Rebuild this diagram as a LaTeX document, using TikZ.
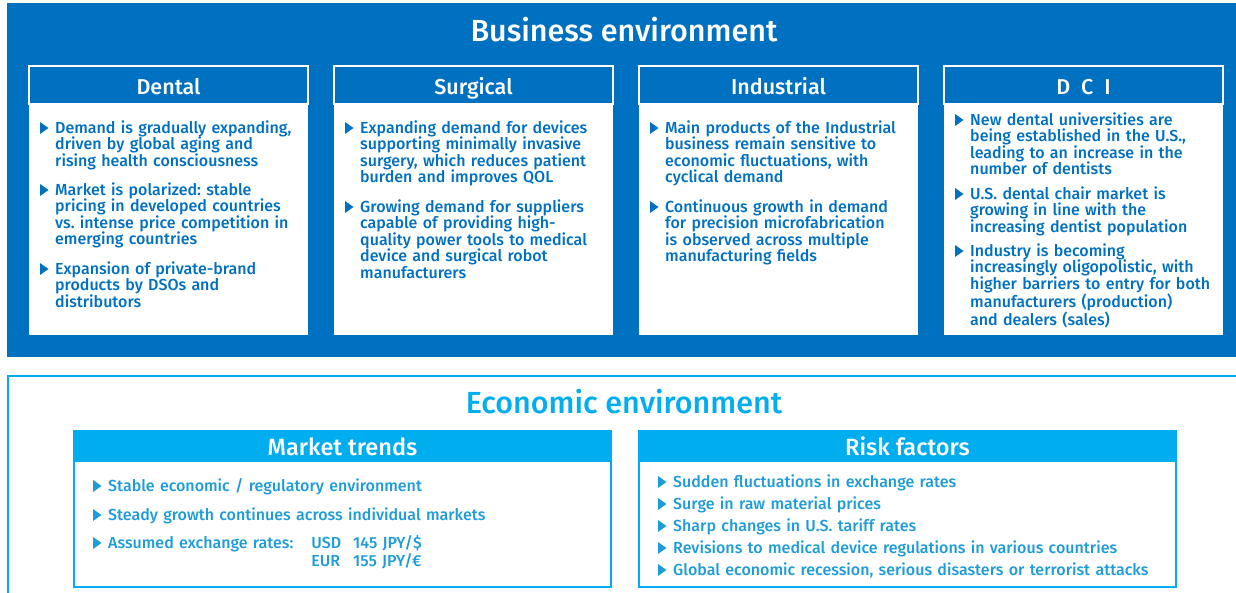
\documentclass[tikz,border=0pt]{standalone}
\usepackage{fontspec}
\setmainfont{Fira Sans Medium}
\usetikzlibrary{positioning}
\definecolor{bizblue}{HTML}{0070C0}
\definecolor{ecocyan}{HTML}{00AEEF}
\definecolor{ecotext}{HTML}{1E9CD7}
% item with a triangle bullet: colour, name, first baseline, text
\newcommand{\tribul}[4][bizblue]{%
  \node[itemtext, text=#1] (#2) at (#3) {#4};
  \fill[#1] ([xshift=-15pt, yshift=11.5pt]#2.base west) -- ++(0,12) -- ++(8.5,-6) -- cycle;
}

\begin{document}
\frenchspacing
\begin{tikzpicture}[x=1pt, y=-1pt,
    colbox/.style = {fill=white, minimum width=279pt, minimum height=270pt, inner sep=0pt},
    colhead/.style = {fill=bizblue, draw=white, line width=2pt, minimum width=279pt, minimum height=38pt, inner sep=0pt, text height=21pt, text depth=2pt, text=white, font=\fontsize{21.5}{21.5}\selectfont},
    ecobox/.style = {draw=ecocyan, line width=1.5pt, minimum width=537pt, minimum height=156pt, inner sep=0pt},
    ecohead/.style = {fill=ecocyan, minimum width=537pt, minimum height=32pt, inner sep=0pt, text height=20pt, text depth=2pt, text=white, font=\fontsize{23.5}{23.5}\selectfont},
    itemtext/.style = {anchor=base west, inner sep=0pt, text width=520pt, align=left, font=\fontsize{16}{16.5}\selectfont},
    title/.style = {inner sep=0pt, font=\fontsize{30.5}{30.5}\selectfont}]
  \useasboundingbox (0,0) rectangle (1236,593);

  % business environment
  \fill[bizblue] (7,3) rectangle (1236,357);
  \node[title, text=white] (biz) at (624,30) {Business environment};
  \foreach \cx/\nm/\ttl in {168.5/dental/Dental, 473.5/surg/Surgical, 778.5/ind/Industrial, 1083.5/dci/{D\hspace{11pt}C\hspace{11pt}I}} {
    \node[colbox] (\nm) at (\cx,200) {};
    \node[colhead, anchor=north] (\nm head) at (\nm.north) {\ttl};
  }

  \tribul{dental1}{55,133.5}{Demand is gradually expanding,\\ driven by global aging and\\ rising health consciousness}
  \tribul{dental2}{55,195.5}{Market is polarized: stable\\ pricing in developed countries\\ vs. intense price competition in\\ emerging countries}
  \tribul{dental3}{55,274.5}{Expansion of private-brand\\ products by DSOs and\\ distributors}

  \tribul{surg1}{360,133.5}{Expanding demand for devices\\ supporting minimally invasive\\ surgery, which reduces patient\\ burden and improves QOL}
  \tribul{surg2}{360,212.5}{Growing demand for suppliers\\ capable of providing high-\\ quality power tools to medical\\ device and surgical robot\\ manufacturers}

  \tribul{ind1}{665,133.5}{Main products of the Industrial\\ business remain sensitive to\\ economic fluctuations, with\\ cyclical demand}
  \tribul{ind2}{665,212.5}{Continuous growth in demand\\ for precision microfabrication\\ is observed across multiple\\ manufacturing fields}

  \tribul{dci1}{970,125.5}{New dental universities are\\ being established in the U.S.,\\ leading to an increase in the\\ number of dentists}
  \tribul{dci2}{970,199.5}{U.S. dental chair market is\\ growing in line with the\\ increasing dentist population}
  \tribul{dci3}{970,256.5}{Industry is becoming\\ increasingly oligopolistic, with\\ higher barriers to entry for both\\ manufacturers (production)\\ and dealers (sales)}

  % economic environment
  \draw[ecocyan, line width=2pt] (1236,376) -- (8,376) -- (8,593);
  \node[title, text=ecocyan] (eco) at (624,402) {Economic environment};
  \node[ecobox] (trend) at (342.5,509) {};
  \node[ecohead, anchor=north] (trendhead) at (trend.north) {Market trends};
  \node[ecobox] (risk) at (907.5,509) {};
  \node[ecohead, anchor=north] (riskhead) at (risk.north) {Risk factors};

  \tribul[ecotext]{trend1}{108,491.5}{Stable economic / regulatory environment}
  \tribul[ecotext]{trend2}{108,520.5}{Steady growth continues across individual markets}
  \tribul[ecotext]{trend3}{108,548.5}{Assumed exchange rates:\hspace{18pt}\begin{tabular}[t]{@{}l@{\hspace{12pt}}l@{}}USD & 145 JPY/\$\\ EUR & 155 JPY/€\end{tabular}}

  \tribul[ecotext]{risk1}{673,487.5}{Sudden fluctuations in exchange rates}
  \tribul[ecotext]{risk2}{673,509.5}{Surge in raw material prices}
  \tribul[ecotext]{risk3}{673,531.5}{Sharp changes in U.S. tariff rates}
  \tribul[ecotext]{risk4}{673,553.5}{Revisions to medical device regulations in various countries}
  \tribul[ecotext]{risk5}{673,575.5}{Global economic recession, serious disasters or terrorist attacks}
\end{tikzpicture}
\end{document}
